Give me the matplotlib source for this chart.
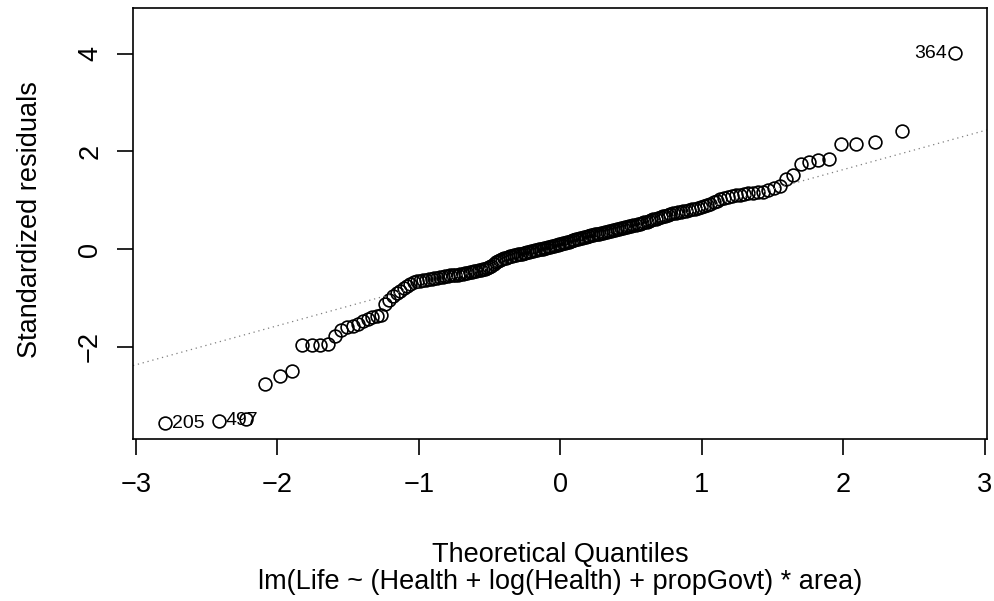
import matplotlib
matplotlib.use("Agg")
import matplotlib.pyplot as plt
import numpy as np
from statistics import NormalDist

plt.rcParams['font.family'] = ['Liberation Sans', 'DejaVu Sans']

# sorted standardized residuals (n = 190)
resid_low = [-3.57, -3.52, -3.48, -2.77, -2.60, -2.50, -1.97, -1.97, -1.97, -1.95,
             -1.78, -1.66, -1.60, -1.57, -1.53, -1.48, -1.44, -1.40, -1.36, -1.34,
             -1.12, -1.05, -0.97, -0.90, -0.85, -0.80, -0.75, -0.71, -0.68, -0.65]
resid_mid = [-0.65, -0.64, -0.63, -0.62, -0.61, -0.60, -0.59, -0.58, -0.57, -0.56,
             -0.55, -0.54, -0.53, -0.53, -0.52, -0.51, -0.50, -0.49, -0.48, -0.47,
             -0.46, -0.45, -0.44, -0.43, -0.42, -0.41, -0.40, -0.38, -0.36, -0.34,
             -0.30, -0.27, -0.25, -0.23, -0.21, -0.19, -0.18, -0.16, -0.15, -0.14,
             -0.13, -0.12, -0.11, -0.10, -0.09, -0.08, -0.07, -0.06, -0.05, -0.04,
             -0.03, -0.02, -0.01, 0.00, 0.00, 0.01, 0.02, 0.03, 0.04, 0.05,
             0.06, 0.07, 0.08, 0.09, 0.10, 0.11, 0.12, 0.13, 0.14, 0.15,
             0.17, 0.18, 0.19, 0.20, 0.21, 0.22, 0.23, 0.24, 0.25, 0.26,
             0.27, 0.28, 0.29, 0.30, 0.31, 0.32, 0.33, 0.34, 0.35, 0.36,
             0.37, 0.38, 0.39, 0.40, 0.41, 0.42, 0.43, 0.44, 0.45, 0.46,
             0.47, 0.48, 0.49, 0.50, 0.51, 0.52, 0.54, 0.55, 0.56, 0.58,
             0.60, 0.61, 0.62, 0.64, 0.65, 0.67, 0.68, 0.70, 0.72, 0.74,
             0.75, 0.76, 0.77, 0.78, 0.79, 0.80, 0.82, 0.83, 0.84, 0.86,
             0.88, 0.91, 0.93, 0.96, 0.99, 1.02, 1.04, 1.06, 1.08, 1.10,
             1.11, 1.12, 1.14, 1.15]
resid_high = [1.16, 1.18, 1.21, 1.26, 1.29, 1.43, 1.52, 1.74, 1.79, 1.82,
              1.84, 2.15, 2.15, 2.19, 2.42, 4.01]
resid = np.array(resid_low + resid_mid + resid_high)

# labelled extremes: index in sorted order -> observation number
id_labels = {0: "205", 1: "497", 189: "364"}

# reference line (qqline)
line_slope = 0.80
line_icpt = 0.03

n = len(resid)
theo = np.array([NormalDist().inv_cdf((i - 0.5) / n) for i in range(1, n + 1)])

fig = plt.figure(figsize=(9.94, 6.01), dpi=100)
ax = fig.add_axes([133/994, 1 - 439/601, (987 - 133)/994, (439 - 7.5)/601])

ax.plot(theo, resid, 'o', mfc='none', mec='black', ms=9.2, mew=1.2)

xl = np.array([-3.02, 3.015])
ax.plot(xl, line_icpt + line_slope * xl, color='#7f7f7f', lw=0.9, ls=(0, (1, 3)))

for i, lab in id_labels.items():
    if theo[i] < 0:
        ax.annotate(lab, (theo[i], resid[i]), xytext=(5, 0), textcoords='offset points',
                    ha='left', va='center', fontsize=14)
    else:
        ax.annotate(lab, (theo[i], resid[i]), xytext=(-6, 0), textcoords='offset points',
                    ha='right', va='center', fontsize=14)

ax.set_xlim(xl)
ax.set_ylim(-3.89, 4.95)
ax.set_xticks([-3, -2, -1, 0, 1, 2, 3])
ax.set_xticklabels(['\u22123', '\u22122', '\u22121', '0', '1', '2', '3'])
ax.set_yticks([-2, 0, 2, 4])
ax.set_yticklabels(['\u22122', '0', '2', '4'], rotation=90, va='center')
ax.tick_params(axis='both', length=11.5, width=1.2, labelsize=19.5, pad=10)
ax.tick_params(axis='x', pad=12)
for s in ax.spines.values():
    s.set_linewidth(1.2)

fig.text(0.5 * (133 + 987) / 994, 1 - 555/601, 'Theoretical Quantiles',
         ha='center', va='center', fontsize=19.5)
fig.text(0.5 * (133 + 987) / 994, 1 - 582/601,
         'lm(Life ~ (Health + log(Health) + propGovt) * area)',
         ha='center', va='center', fontsize=19.5)
fig.text(30/994, 1 - 220/601, 'Standardized residuals', rotation=90,
         ha='center', va='center', fontsize=19.5)

fig.savefig('out.png', dpi=100)
